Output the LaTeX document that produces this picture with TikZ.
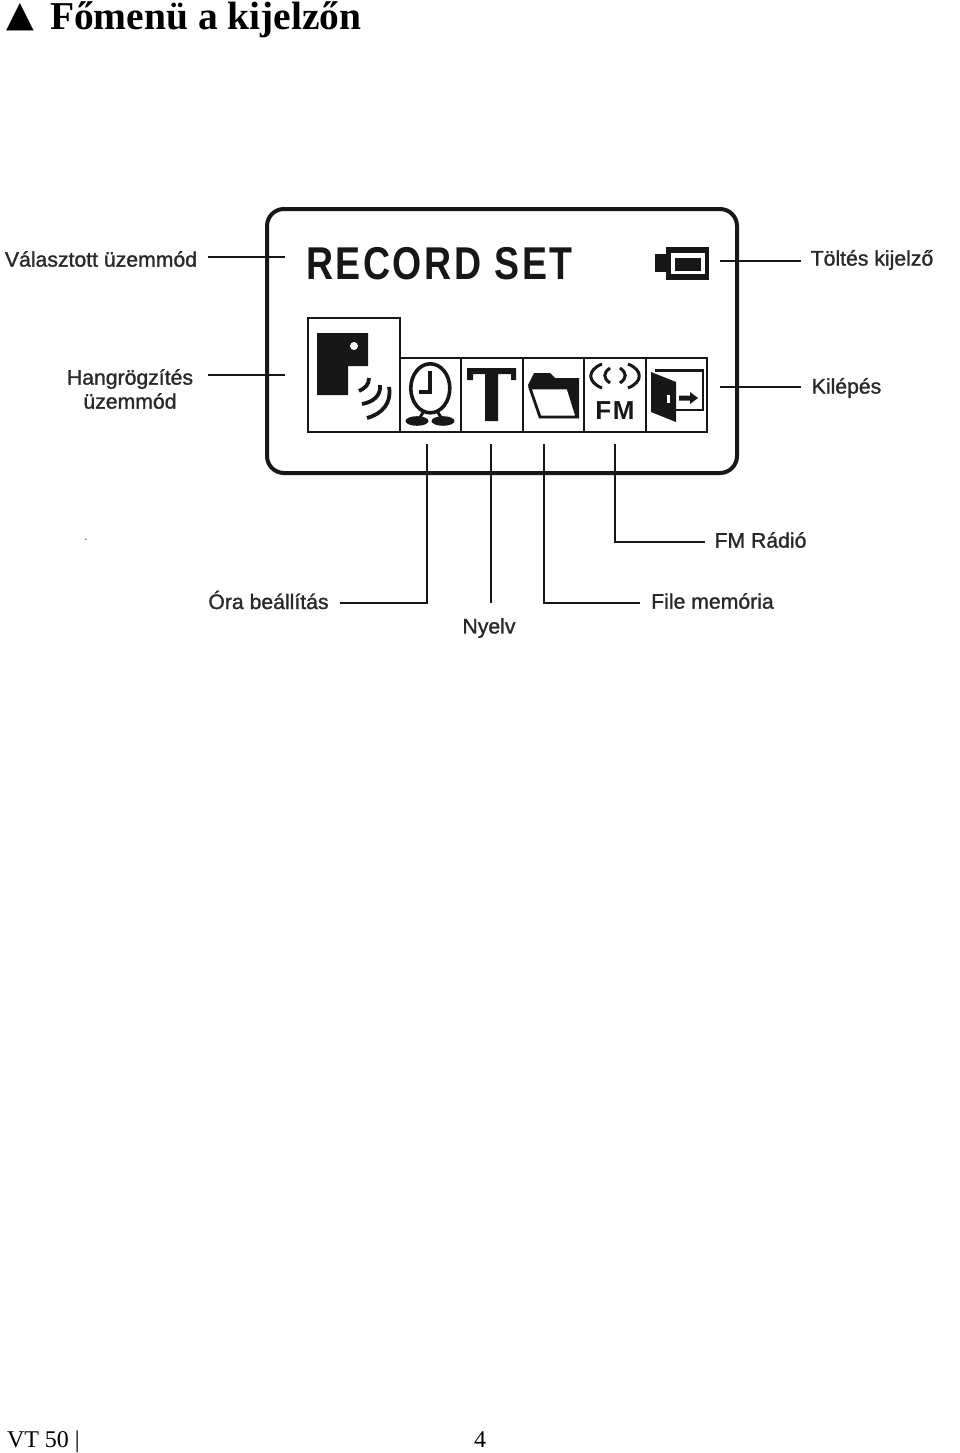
\documentclass[tikz,border=0pt]{standalone}
\usepackage{fontspec}
\setmainfont{Liberation Serif}
\setsansfont{Liberation Sans}
\newfontfamily\symfont{DejaVu Sans}
\newfontfamily\lblfont[FakeBold=1.3]{Liberation Sans}
\usetikzlibrary{positioning}
\definecolor{lcdink}{gray}{0.09}
\definecolor{lblink}{gray}{0.16}
\begin{document}
\begin{tikzpicture}[x=1pt,y=-1pt,
  every node/.style={inner sep=0pt,outer sep=0pt},
  lbl/.style={font=\fontsize{21}{24}\selectfont\lblfont,text=lblink,align=center,xscale=1.01},
  lead/.style={draw=lcdink,line width=1.6pt},
  ink/.style={fill=lcdink,draw=none},
  wave/.style={draw=lcdink,line width=3.8pt}]
\useasboundingbox (0,0) rectangle (960,1453);
% heading and footer
\node[font=\symfont\fontsize{36}{42}\selectfont,anchor=center] (mark) at (20.5,17) {▲};
\node[font=\fontsize{39.5}{46}\selectfont\bfseries,anchor=base west] (title) at (50,30) {Főmenü a kijelzőn};
\node[font=\fontsize{24}{29}\selectfont,anchor=base west] (foot) at (7,1447) {VT 50 |};
\node[font=\fontsize{24}{29}\selectfont,anchor=base west] (pagenum) at (474,1447) {4};
\node[font=\fontsize{8}{10}\selectfont,anchor=center] (speck) at (86,540) {-};
% display frame
\draw[draw=lcdink,line width=4pt,rounded corners=17pt] (267,209) rectangle (737,473);
\node[font=\fontsize{46}{56}\selectfont\sffamily\bfseries\addfontfeatures{LetterSpace=7},text=lcdink,anchor=base west,xscale=0.815] (mode) at (306,279) {RECORD SET};
% battery
\fill[ink] (655,254) rectangle (667,272);
\fill[ink] (666,247) rectangle (709,280);
\fill[white] (671,253) rectangle (705,274);
\fill[ink] (675,258) rectangle (701,271);
% icon row
\draw[draw=lcdink,line width=2.8pt] (308,318) rectangle (400,432);
\draw[draw=lcdink,line width=2.8pt] (400,358) rectangle (707,432);
\foreach \x in {461,523,584,646} {
  \draw[draw=lcdink,line width=2.8pt] (\x,358) -- (\x,432);
}
% record icon
\fill[ink] (317,333) -- (368,333) -- (368,366) -- (348,366) -- (348,395) -- (317,395) -- cycle;
\fill[white] (354,346) circle (4);
\draw[wave] (359,391) .. controls (365,388) and (369,385) .. (369,378);
\draw[wave] (362,404) .. controls (373,402) and (381,396) .. (380,385);
\draw[wave] (367,418) .. controls (382,414) and (392,403) .. (389,387);
% clock icon
\draw[draw=lcdink,line width=3.6pt] (430.3,388.3) ellipse (19.5 and 24.5);
\draw[draw=lcdink,line width=4pt] (430,371) -- (430,392) -- (419,392);
\draw[draw=lcdink,line width=3pt] (424,411) -- (419,419) (437,411) -- (442,419);
\foreach \x in {417,443} {
  \fill[ink] (\x,421) ellipse (11.5 and 4.8);
}
% text icon
\fill[ink] (467,368) -- (516,368) -- (516,380) -- (511,380) -- (511,374) -- (498,374) -- (498,421) -- (485,421) -- (485,374) -- (473,374) -- (473,380) -- (467,380) -- cycle;
% folder icon
\fill[ink] (528,385) -- (534,373) -- (550,373) -- (555,378) -- (579,378) -- (579,418) -- (540,418) -- cycle;
\draw[fill=white,draw=lcdink,line width=2.8pt] (530,388) -- (568,388) -- (577,417) -- (540,417) -- cycle;
% radio icon
\foreach \s in {-1,1} {
  \draw[draw=lcdink,line width=3pt] (615+\s*13,364) .. controls (615+\s*28,370) and (615+\s*28,382) .. (615+\s*13,388);
  \draw[draw=lcdink,line width=3pt] (615+\s*5,368) .. controls (615+\s*12,373) and (615+\s*12,378) .. (615+\s*5,383);
}
\node[font=\fontsize{26}{30}\selectfont\sffamily\bfseries\addfontfeatures{LetterSpace=6},text=lcdink,anchor=base] (fm) at (615,419) {FM};
% exit icon
\draw[draw=lcdink,line width=2.4pt] (655,370.5) -- (703,370.5) -- (703,410) -- (672,410);
\fill[ink] (651,372) -- (676,382) -- (676,422) -- (651,412) -- cycle;
\fill[white] (667,395) rectangle (670,403);
\fill[ink] (679,395.5) -- (690,395.5) -- (690,392) -- (698,398) -- (690,404) -- (690,400.5) -- (679,400.5) -- cycle;
% labels
\node[lbl,anchor=center] (valasztott) at (101,259) {Választott üzemmód};
\node[lbl,anchor=center] (hang) at (130,389) {Hangrögzítés\\üzemmód};
\node[lbl,anchor=center] (toltes) at (872,260) {Töltés kijelző};
\node[lbl,anchor=center] (kilepes) at (846.5,388) {Kilépés};
\node[lbl,anchor=center] (ora) at (268.5,600) {Óra beállítás};
\node[lbl,anchor=center] (nyelv) at (489,628) {Nyelv};
\node[lbl,anchor=center] (file) at (712.5,601) {File memória};
\node[lbl,anchor=center] (radio) at (760.5,540) {FM Rádió};
% leader ends
\coordinate (modestart) at (208,257);
\coordinate (modeend) at (285,257);
\coordinate (hangstart) at (208,375);
\coordinate (hangend) at (285,375);
\coordinate (battend) at (720,261);
\coordinate (exitend) at (720,387);
\coordinate (oratop) at (427,444);
\coordinate (nyelvtop) at (491,444);
\coordinate (filetop) at (544,444);
\coordinate (radiotop) at (615,444);
\coordinate (nyelvend) at (491,603);
\draw[lead] (modestart) -- (modeend);
\draw[lead] (hangstart) -- (hangend);
\draw[lead] (battend) -- ++(81,0);
\draw[lead] (exitend) -- ++(81,0);
\draw[lead] (ora.east |- 0,603) ++(11,0) -- (oratop |- 0,603) -- (oratop);
\draw[lead] (nyelvtop) -- (nyelvend);
\draw[lead] (filetop) -- (filetop |- 0,603) -- ++(96,0);
\draw[lead] (radiotop) -- (radiotop |- 0,542) -- ++(90,0);
\end{tikzpicture}
\end{document}
